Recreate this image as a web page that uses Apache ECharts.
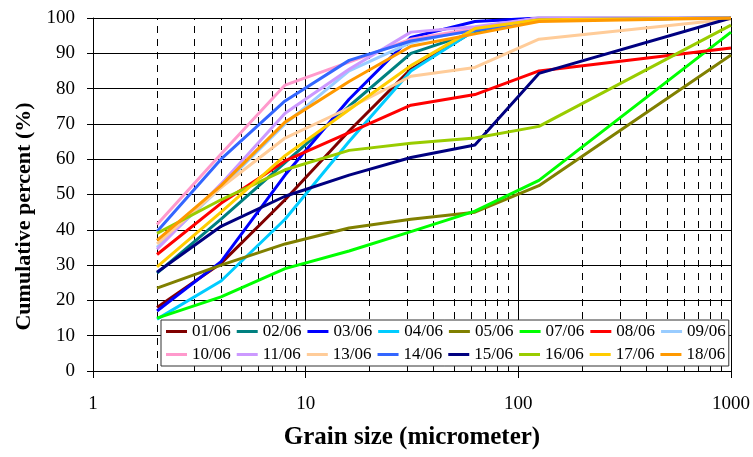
<!DOCTYPE html>
<html>
<head>
<meta charset="utf-8">
<script src="https://cdn.jsdelivr.net/npm/echarts@6/dist/echarts.min.js"></script>
<style>
  html, body { margin: 0; padding: 0; background: #fff; }
  #chart { width: 753px; height: 457px; }
</style>
</head>
<body>
<div id="chart"></div>
<script>
// Grain size classes (micrometer) at which the cumulative percent was measured
const grainSize = [2, 4, 8, 16, 31.25, 62.5, 125, 1000];

// Cumulative percent per sampling date
const d0106 = [18, 30.5, 48.5, 68, 85.5, 96.5, 99.5, 100];
const d0206 = [27.7, 43, 59, 75, 90, 96, 99.5, 100];
const d0306 = [17, 31, 55.5, 77, 94.5, 99, 100, 100];
const d0406 = [14.7, 25.5, 43, 65, 85, 96.5, 99.5, 100];
const d0506 = [23.5, 30, 36, 40.5, 43, 45, 52.5, 89.5];
const d0706 = [15, 21, 29, 34, 39.5, 45.3, 54, 96];
const d0806 = [33, 47.5, 59.5, 67.5, 75.3, 78.3, 85, 91.5];
const d0906 = [35, 52, 70, 85, 93, 97, 100, 100];
const d1006 = [41.5, 61.5, 81, 87.5, 94, 97, 100, 100];
const d1106 = [34.5, 53, 73, 85.5, 96, 97.5, 100, 100];
const d1306 = [36, 52, 66, 74.5, 83.5, 86, 94, 99.7];
const d1406 = [39.5, 60, 76.5, 88, 93.5, 96.5, 99.5, 100];
const d1506 = [28, 41, 49.5, 55.5, 60.5, 64, 84.3, 100];
const d1606 = [39, 48.5, 57, 62.5, 64.5, 66, 69.3, 98];
const d1706 = [29.5, 45, 61, 74, 86.5, 97, 99.5, 100];
const d1806 = [37, 52.5, 70.5, 82, 92, 95.5, 99, 100];

const sampleDates = ['01/06', '02/06', '03/06', '04/06', '05/06', '07/06', '08/06', '09/06',
                     '10/06', '11/06', '13/06', '14/06', '15/06', '16/06', '17/06', '18/06'];
const sampleValues = [d0106, d0206, d0306, d0406, d0506, d0706, d0806, d0906,
                      d1006, d1106, d1306, d1406, d1506, d1606, d1706, d1806];
const sampleColors = ['#800000', '#008080', '#0000FF', '#00CCFF', '#808000', '#00FF00', '#FF0000', '#99CCFF',
                      '#FF99CC', '#CC99FF', '#FFCC99', '#3366FF', '#000080', '#99CC00', '#FFCC00', '#FF9900'];

// Intermediate log-scale gridline positions (2..9, 20..90, 200..900)
const minorGrid = [2, 3, 4, 5, 6, 7, 8, 9, 20, 30, 40, 50, 60, 70, 80, 90,
                   200, 300, 400, 500, 600, 700, 800, 900];

const yTicks = { min: 0, max: 100, interval: 10 };

const serif = 'Liberation Serif';

const chart = echarts.init(document.getElementById('chart'), null, { renderer: 'canvas' });

const series = sampleDates.map((name, i) => ({
  name: name,
  type: 'line',
  data: grainSize.map((g, k) => [g, sampleValues[i][k]]),
  symbol: 'none',
  z: 3,
  lineStyle: { width: 3, color: sampleColors[i] },
  itemStyle: { color: sampleColors[i] }
}));

// Dashed minor gridlines drawn through the x axis scale
series.unshift({
  name: 'minor-grid',
  type: 'line',
  data: [],
  z: 1,
  silent: true,
  markLine: {
    z: 1,
    silent: true,
    symbol: ['none', 'none'],
    animation: false,
    label: { show: false },
    lineStyle: { color: '#000', width: 1, type: [7, 6] },
    emphasis: { disabled: true },
    data: minorGrid.map(v => ({ xAxis: v }))
  }
});

chart.setOption({
  animation: false,
  backgroundColor: '#fff',
  textStyle: { fontFamily: serif, color: '#000' },
  grid: { left: 93, right: 22, top: 18, bottom: 86, containLabel: false },
  xAxis: {
    type: 'log',
    logBase: 10,
    min: 1,
    max: 1000,
    name: 'Grain size (micrometer)',
    nameLocation: 'middle',
    nameGap: 54,
    nameTextStyle: { fontFamily: serif, fontSize: 25, fontWeight: 'bold', color: '#000' },
    axisLine: { show: true, onZero: false, lineStyle: { color: '#000', width: 1 } },
    axisTick: { show: true, inside: false, length: 7, lineStyle: { color: '#000' } },
    axisLabel: { fontFamily: serif, fontSize: 19, color: '#000', margin: 24, formatter: v => String(v) },
    splitLine: { show: true, lineStyle: { color: '#000', width: 1 } }
  },
  yAxis: {
    type: 'value',
    min: yTicks.min,
    max: yTicks.max,
    interval: yTicks.interval,
    name: 'Cumulative percent (%)',
    nameLocation: 'middle',
    nameGap: 55,
    nameTextStyle: { fontFamily: serif, fontSize: 22, fontWeight: 'bold', color: '#000', padding: [0, 44, 0, 0] },
    axisLine: { show: true, lineStyle: { color: '#000', width: 1 } },
    axisTick: { show: true, inside: false, length: 6, lineStyle: { color: '#000' } },
    axisLabel: { fontFamily: serif, fontSize: 19, color: '#000', margin: 18 },
    splitLine: { show: true, lineStyle: { color: '#000', width: 1 } }
  },
  legend: {
    z: 10,
    data: sampleDates,
    left: 161,
    top: 320,
    width: 570,
    orient: 'horizontal',
    padding: [3, 3, 3, 5],
    itemGap: 6,
    itemWidth: 21,
    itemHeight: 3,
    icon: 'rect',
    backgroundColor: '#fff',
    borderColor: '#333',
    borderWidth: 1,
    borderRadius: 0,
    selectedMode: false,
    textStyle: { fontFamily: serif, fontSize: 17, color: '#000', lineHeight: 16 }
  },
  series: series
});
</script>
</body>
</html>
